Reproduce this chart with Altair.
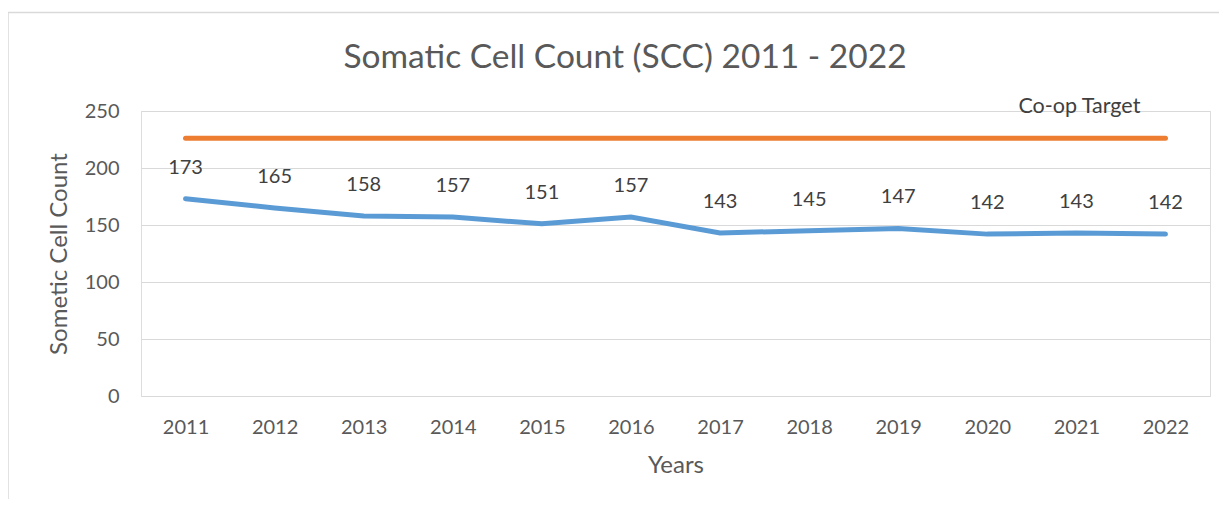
import altair as alt
import pandas as pd

years = ["2011", "2012", "2013", "2014", "2015", "2016", "2017", "2018", "2019", "2020", "2021", "2022"]
scc = [173, 165, 158, 157, 151, 157, 143, 145, 147, 142, 143, 142]
target = [226] * 12
target_label = "Co-op Target"
target_label_year = "2021"
chart_title = "Somatic Cell Count (SCC) 2011 - 2022"

df = pd.DataFrame({"Year": years, "SCC": scc, "Target": target})
lab = pd.DataFrame({"Year": [target_label_year], "Target": [target[0]], "Label": [target_label]})
ttl = pd.DataFrame({"T": [chart_title]})

FONT = "Lato"
W, H = 1069, 285

x = alt.X("Year:N", sort=years, title="Years",
          scale=alt.Scale(type="point", padding=0.5),
          axis=alt.Axis(labelAngle=0, ticks=False, domain=False, grid=False,
                        labelPadding=21, labelFontSize=20, labelColor="#595959",
                        titleFontSize=24, titleColor="#595959", titleFontWeight="normal",
                        titlePadding=16, labelFont=FONT, titleFont=FONT))
y_scale = alt.Scale(domain=[0, 250])
y_axis = alt.Axis(values=[0, 50, 100, 150, 200, 250], ticks=False, domain=False,
                  gridColor="#d9d9d9", gridWidth=1, labelPadding=22, labelFontSize=20,
                  labelColor="#595959", title="Sometic Cell Count", titleFontSize=24,
                  titleColor="#595959", titleFontWeight="normal", titlePadding=13,
                  labelFont=FONT, titleFont=FONT)

base = alt.Chart(df)

frame = alt.Chart(lab).mark_rect(fill=None, stroke="#d9d9d9", strokeWidth=1.5, clip=False).encode(
    x=alt.value(-133), x2=alt.value(W + 40), y=alt.value(-98.5), y2=alt.value(H + 200))

title_text = alt.Chart(ttl).mark_text(fontSize=33.5, font=FONT, color="#595959", align="center",
                                      baseline="middle").encode(
    x=alt.value(484), y=alt.value(-53), text="T:N")

target_line = base.mark_line(color="#ED7D31", strokeWidth=5, strokeCap="round").encode(
    x=x, y=alt.Y("Target:Q", scale=y_scale, axis=y_axis))

scc_line = base.mark_line(color="#5B9BD5", strokeWidth=5, strokeCap="round").encode(
    x=x, y=alt.Y("SCC:Q", scale=y_scale))

scc_labels = base.mark_text(dy=-31, baseline="middle", fontSize=20, color="#404040", font=FONT).encode(
    x=x, y=alt.Y("SCC:Q", scale=y_scale), text="SCC:Q")

target_text = alt.Chart(lab).mark_text(dy=-31, dx=3, baseline="middle", fontSize=21.5, color="#404040", font=FONT).encode(
    x=alt.X("Year:N", sort=years, scale=alt.Scale(type="point", padding=0.5)),
    y=alt.Y("Target:Q", scale=y_scale), text="Label:N")

chart = alt.layer(frame, title_text, target_line, scc_line, scc_labels, target_text).properties(
    width=W, height=H,
    autosize=alt.AutoSizeParams(type="none"),
    padding={"left": 133, "top": 103, "right": 9, "bottom": 103},
).configure_view(stroke=None).configure(background="white")

chart.save("out.html", embed_options={"renderer": "svg", "actions": False})
